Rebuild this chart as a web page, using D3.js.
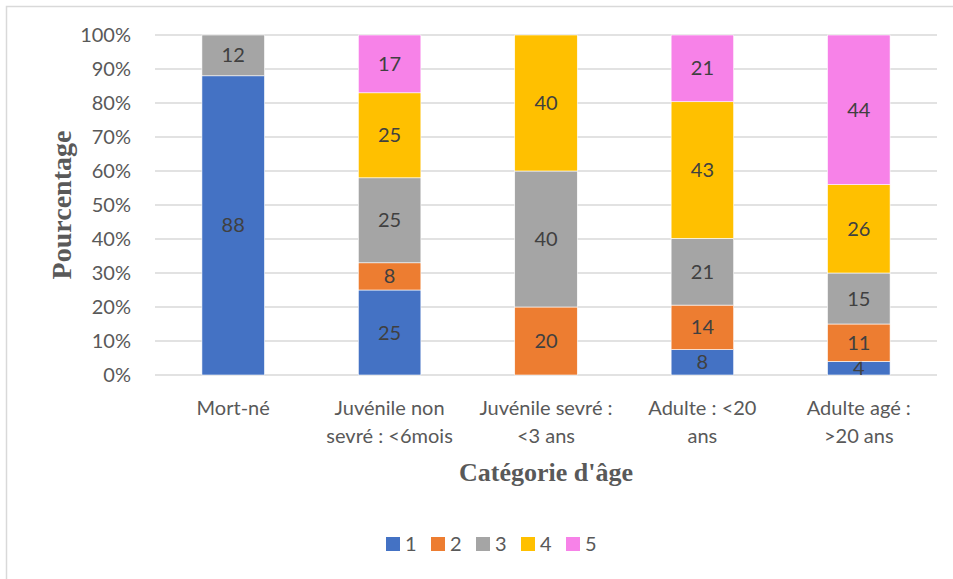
<!DOCTYPE html>
<html>
<head>
<meta charset="utf-8">
<script src="https://cdn.jsdelivr.net/npm/d3@7"></script>
<style>
  body { margin: 0; background: #fff; }
  svg { display: block; }
</style>
</head>
<body>
<div id="container"></div>
<script>
const width = 953;
const height = 579;

// data
const categories = [
  ["Mort-né"],
  ["Juvénile non", "sevré : <6mois"],
  ["Juvénile sevré :", "<3 ans"],
  ["Adulte : <20", "ans"],
  ["Adulte agé :", ">20 ans"]
];
const seriesNames = ["1", "2", "3", "4", "5"];
const serie1 = [88, 25, 0, 8, 4];
const serie2 = [0, 8, 20, 14, 11];
const serie3 = [12, 25, 40, 21, 15];
const serie4 = [0, 25, 40, 43, 26];
const serie5 = [0, 17, 0, 21, 44];
const yTicks = [0, 0.1, 0.2, 0.3, 0.4, 0.5, 0.6, 0.7, 0.8, 0.9, 1];
const colors = ["#4472C4", "#ED7D31", "#A5A5A5", "#FFC000", "#F782E8"];

const allSeries = [serie1, serie2, serie3, serie4, serie5];
const rows = categories.map((c, i) => {
  const r = { cat: c.join(" ") };
  seriesNames.forEach((s, j) => r[s] = allSeries[j][i]);
  return r;
});

const margin = { left: 155, right: 16, top: 35, bottom: 204 };
const bodyFont = "Lato, 'Open Sans', sans-serif";
const titleFont = "'Liberation Serif', 'Times New Roman', serif";

const svg = d3.select("#container")
  .append("svg")
  .attr("width", width)
  .attr("height", height);

// outer chart border
svg.append("rect")
  .attr("x", 6.5).attr("y", 6.5)
  .attr("width", width).attr("height", height)
  .attr("fill", "none")
  .attr("stroke", "#d9d9d9")
  .attr("stroke-width", 1.5);

const x = d3.scaleBand()
  .domain(rows.map(d => d.cat))
  .range([margin.left, width - margin.right])
  .paddingInner(0.6)
  .paddingOuter(0.3);

const y = d3.scaleLinear()
  .domain([0, 1])
  .range([height - margin.bottom, margin.top]);

// gridlines
svg.append("g")
  .selectAll("line")
  .data(yTicks)
  .join("line")
  .attr("x1", margin.left)
  .attr("x2", width - margin.right)
  .attr("y1", d => y(d))
  .attr("y2", d => y(d))
  .attr("stroke", "#d9d9d9")
  .attr("stroke-width", 1.5);

// y axis labels
const yAxis = svg.append("g")
  .attr("transform", `translate(${margin.left - 24},0)`)
  .call(d3.axisLeft(y).tickValues(yTicks).tickFormat(d3.format(".0%")).tickSize(0).tickPadding(0));
yAxis.select(".domain").remove();
yAxis.selectAll("text")
  .attr("font-family", bodyFont)
  .attr("font-size", 20)
  .attr("fill", "#595959");

const stack = d3.stack()
  .keys(seriesNames)
  .offset(d3.stackOffsetExpand);
const stacked = stack(rows);

const layers = svg.append("g")
  .selectAll("g")
  .data(stacked)
  .join("g")
  .attr("fill", (d, i) => colors[i]);

layers.selectAll("rect")
  .data(d => d)
  .join("rect")
  .attr("x", d => x(d.data.cat))
  .attr("width", x.bandwidth())
  .attr("y", d => y(d[1]))
  .attr("height", d => y(d[0]) - y(d[1]))
  .attr("stroke", d => (d[1] - d[0]) > 0 ? "#fff" : "none")
  .attr("stroke-width", 0.6);

// data labels
layers.selectAll("text")
  .data(d => d.map(v => ({ v, key: d.key })))
  .join("text")
  .filter(d => d.v.data[d.key] > 0)
  .attr("x", d => x(d.v.data.cat) + x.bandwidth() / 2)
  .attr("y", d => y((d.v[0] + d.v[1]) / 2))
  .attr("dy", "0.35em")
  .attr("text-anchor", "middle")
  .attr("font-family", bodyFont)
  .attr("font-size", 20)
  .attr("fill", "#404040")
  .text(d => d.v.data[d.key]);

// category labels
const catG = svg.append("g");
rows.forEach((r, i) => {
  const t = catG.append("text")
    .attr("text-anchor", "middle")
    .attr("font-family", bodyFont)
    .attr("font-size", 20)
    .attr("fill", "#595959");
  categories[i].forEach((line, k) => {
    t.append("tspan")
      .attr("x", x(r.cat) + x.bandwidth() / 2)
      .attr("y", 415 + k * 28)
      .text(line);
  });
});

// axis titles
svg.append("text")
  .attr("x", (margin.left + width - margin.right) / 2)
  .attr("y", 481)
  .attr("text-anchor", "middle")
  .attr("font-family", titleFont)
  .attr("font-weight", "bold")
  .attr("font-size", 26)
  .attr("fill", "#595959")
  .text("Catégorie d'âge");

svg.append("text")
  .attr("transform", `translate(71,${(y(0) + y(1)) / 2}) rotate(-90)`)
  .attr("text-anchor", "middle")
  .attr("font-family", titleFont)
  .attr("font-weight", "bold")
  .attr("font-size", 28)
  .attr("fill", "#595959")
  .text("Pourcentage");

// legend
const legend = svg.append("g")
  .selectAll("g")
  .data(seriesNames)
  .join("g")
  .attr("transform", (d, i) => `translate(${386 + i * 45},537)`);
legend.append("rect")
  .attr("width", 14)
  .attr("height", 14)
  .attr("fill", (d, i) => colors[i]);
legend.append("text")
  .attr("x", 19)
  .attr("y", 7)
  .attr("dy", "0.36em")
  .attr("font-family", bodyFont)
  .attr("font-size", 20)
  .attr("fill", "#595959")
  .text(d => d);
</script>
</body>
</html>
